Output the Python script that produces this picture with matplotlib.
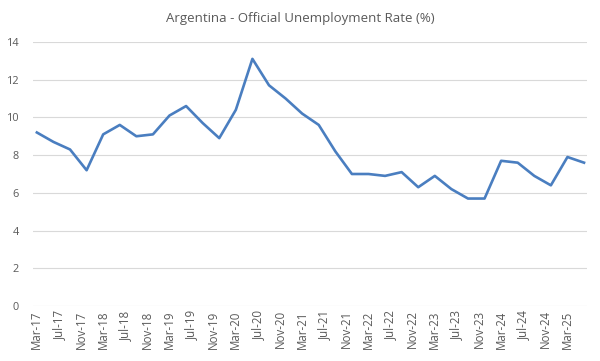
import numpy as np
import matplotlib
matplotlib.use("Agg")
import matplotlib.pyplot as plt

# quarterly official unemployment rate, Q1 2017 .. Q2 2025
quarters = [
    "Mar-17", "Jun-17", "Sep-17", "Dec-17",
    "Mar-18", "Jun-18", "Sep-18", "Dec-18",
    "Mar-19", "Jun-19", "Sep-19", "Dec-19",
    "Mar-20", "Jun-20", "Sep-20", "Dec-20",
    "Mar-21", "Jun-21", "Sep-21", "Dec-21",
    "Mar-22", "Jun-22", "Sep-22", "Dec-22",
    "Mar-23", "Jun-23", "Sep-23", "Dec-23",
    "Mar-24", "Jun-24", "Sep-24", "Dec-24",
    "Mar-25", "Jun-25",
]
unemployment = [
    9.2, 8.7, 8.3, 7.2,
    9.1, 9.6, 9.0, 9.1,
    10.1, 10.6, 9.7, 8.9,
    10.4, 13.1, 11.7, 11.0,
    10.2, 9.6, 8.2, 7.0,
    7.0, 6.9, 7.1, 6.3,
    6.9, 6.2, 5.7, 5.7,
    7.7, 7.6, 6.9, 6.4,
    7.9, 7.6,
]
tick_labels = [
    "Mar-17", "Jul-17", "Nov-17", "Mar-18", "Jul-18", "Nov-18",
    "Mar-19", "Jul-19", "Nov-19", "Mar-20", "Jul-20", "Nov-20",
    "Mar-21", "Jul-21", "Nov-21", "Mar-22", "Jul-22", "Nov-22",
    "Mar-23", "Jul-23", "Nov-23", "Mar-24", "Jul-24", "Nov-24",
    "Mar-25",
]

months = {"Jan": 1, "Feb": 2, "Mar": 3, "Apr": 4, "May": 5, "Jun": 6,
          "Jul": 7, "Aug": 8, "Sep": 9, "Oct": 10, "Nov": 11, "Dec": 12}


def month_index(label):
    m, y = label.split("-")
    return (int(y) - 17) * 12 + months[m] - 3


x = np.array([month_index(q) for q in quarters])
tick_pos = [month_index(t) for t in tick_labels]

plt.rcParams["font.family"] = ["Open Sans", "DejaVu Sans"]
text_color = "#595959"

fig = plt.figure(figsize=(6.0, 3.61), dpi=100)
ax = fig.add_axes([0.055, 0.152, 0.923, 0.732])

ax.plot(x, unemployment, color="#4A7EC0", linewidth=1.9, solid_joinstyle="round")

ax.set_xlim(-0.7, 99.5)
ax.set_ylim(0, 14)
ax.set_yticks(range(0, 15, 2))
ax.set_xticks(tick_pos)
ax.set_xticklabels(tick_labels, rotation=90)

ax.grid(axis="y", color="#D9D9D9", linewidth=0.8)
ax.set_axisbelow(True)
for s in ax.spines.values():
    s.set_visible(False)
ax.tick_params(length=0, colors=text_color)
ax.tick_params(axis="x", labelsize=8.3, pad=3)
ax.tick_params(axis="y", labelsize=7.8, pad=10)

fig.text(0.5, 0.95, "Argentina - Official Unemployment Rate (%)",
         ha="center", va="center", fontsize=9.5, color=text_color)

fig.savefig("out.png", dpi=100)
